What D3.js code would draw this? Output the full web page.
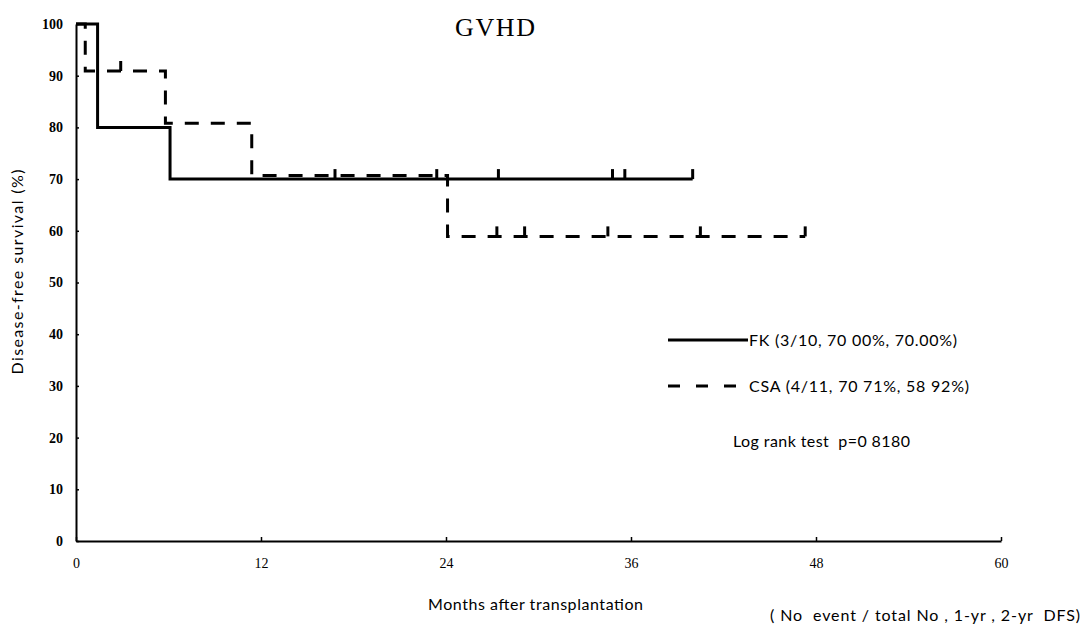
<!DOCTYPE html>
<html>
<head>
<meta charset="utf-8">
<script src="https://cdn.jsdelivr.net/npm/d3@7/dist/d3.min.js"></script>
<style>
  body { margin: 0; background: #fff; }
  svg { display: block; }
  text { white-space: pre; }
</style>
</head>
<body>
<div id="chart"></div>
<script>
// ── Data ──────────────────────────────────────────────────────────────────
const fkTimes = [0, 1.4, 6.1, 40.0];
const fkSurv = [100, 80, 70, 70];
const fkCensor = [16.8, 23.4, 27.4, 34.8, 35.6, 40.0];

const csaTimes = [0, 0.6, 5.8, 11.4, 24.1, 47.3];
const csaSurv = [100, 90.91, 80.81, 70.71, 58.92, 58.92];
const csaCensor = [2.9, 27.3, 29.1, 34.5, 40.5, 47.3];

const xTicks = [0, 12, 24, 36, 48, 60];
const yTicks = [0, 10, 20, 30, 40, 50, 60, 70, 80, 90, 100];

const legendLabels = ["FK (3/10, 70 00%, 70.00%)", "CSA (4/11, 70 71%, 58 92%)"];
const pText = "Log rank test  p=0 8180";
const noteText = "( No  event / total No , 1-yr , 2-yr  DFS)";

// ── Layout ────────────────────────────────────────────────────────────────
const W = 1083, H = 627;
const X0 = 76, X1 = 1001, Y0 = 541, Y1 = 24;

const svg = d3.select("#chart").append("svg").attr("width", W).attr("height", H);

const x = d3.scaleLinear().domain([0, 60]).range([X0, X1]);
const y = d3.scaleLinear().domain([0, 100]).range([Y0, Y1]);

const serif = "'Liberation Serif', 'DejaVu Serif', serif";
const sans = "Lato, 'Open Sans', sans-serif";

// text helper: fixed width to match the scanned lettering
function label(sel, props) {
  const t = sel.append("text")
    .attr("x", props.x).attr("y", props.y)
    .attr("text-anchor", props.anchor || "start")
    .style("font-family", props.font || sans)
    .style("font-size", props.size + "px")
    .text(props.text);
  if (props.len) t.attr("textLength", props.len).attr("lengthAdjust", "spacing");
  if (props.transform) t.attr("transform", props.transform);
  return t;
}

// ── Axes ──────────────────────────────────────────────────────────────────
const yAxis = svg.append("g")
  .attr("transform", `translate(${X0},0)`)
  .call(d3.axisLeft(y).tickValues(yTicks).tickSize(-3).tickSizeOuter(0).tickPadding(13));
const xAxis = svg.append("g")
  .attr("transform", `translate(0,${Y0})`)
  .call(d3.axisBottom(x).tickValues(xTicks).tickSize(-4).tickSizeOuter(0).tickPadding(17));

[yAxis, xAxis].forEach((g) => {
  g.select(".domain").attr("stroke", "#000").attr("stroke-width", 2);
  g.selectAll(".tick line").attr("stroke", "#000").attr("stroke-width", 1.5);
  g.selectAll(".tick text")
    .attr("fill", "#000")
    .style("font-family", serif)
    .style("font-size", "14px");
});
yAxis.selectAll(".tick text").style("font-weight", "bold");

// ── Titles ────────────────────────────────────────────────────────────────
label(svg, { x: 455, y: 36, text: "GVHD", font: serif, size: 26, len: 80 });
label(svg, { x: 0, y: 0, text: "Disease-free survival (%)", size: 16, len: 205, anchor: "middle",
  transform: "translate(23,272) rotate(-90)" });
label(svg, { x: 428, y: 610, text: "Months after transplantation", size: 16, len: 215 });
label(svg, { x: 770, y: 621, text: noteText, size: 16, len: 310 });

// ── Survival curves ───────────────────────────────────────────────────────
const stepLine = d3.line()
  .x((d) => x(d[0]))
  .y((d) => y(d[1]))
  .curve(d3.curveStepAfter);

function survAt(times, surv, t) {
  let s = surv[0];
  for (let i = 0; i < times.length; i++) if (times[i] <= t) s = surv[i];
  return s;
}

const series = [
  { times: fkTimes, surv: fkSurv, censor: fkCensor, dash: null },
  { times: csaTimes, surv: csaSurv, censor: csaCensor, dash: "14 12" },
];

series.forEach((s) => {
  svg.append("path")
    .datum(d3.zip(s.times, s.surv))
    .attr("d", stepLine)
    .attr("fill", "none")
    .attr("stroke", "#000")
    .attr("stroke-width", 3)
    .attr("stroke-dasharray", s.dash);

  svg.append("g")
    .selectAll("line")
    .data(s.censor)
    .join("line")
    .attr("x1", (d) => x(d))
    .attr("x2", (d) => x(d))
    .attr("y1", (d) => y(survAt(s.times, s.surv, d)))
    .attr("y2", (d) => y(survAt(s.times, s.surv, d)) - 10)
    .attr("stroke", "#000")
    .attr("stroke-width", 3);
});

// ── Legend ────────────────────────────────────────────────────────────────
const legend = svg.append("g");
legend.append("line")
  .attr("x1", 668).attr("x2", 748).attr("y1", 340).attr("y2", 340)
  .attr("stroke", "#000").attr("stroke-width", 3);
legend.append("line")
  .attr("x1", 668).attr("x2", 740).attr("y1", 386).attr("y2", 386)
  .attr("stroke", "#000").attr("stroke-width", 3).attr("stroke-dasharray", "12 16");

const legendLens = [208, 220];
legendLabels.forEach((txt, i) => {
  label(legend, { x: 749, y: 346 + i * 46, text: txt, size: 16, len: legendLens[i] });
});
label(legend, { x: 733, y: 447, text: pText, size: 16, len: 177 });
</script>
</body>
</html>
